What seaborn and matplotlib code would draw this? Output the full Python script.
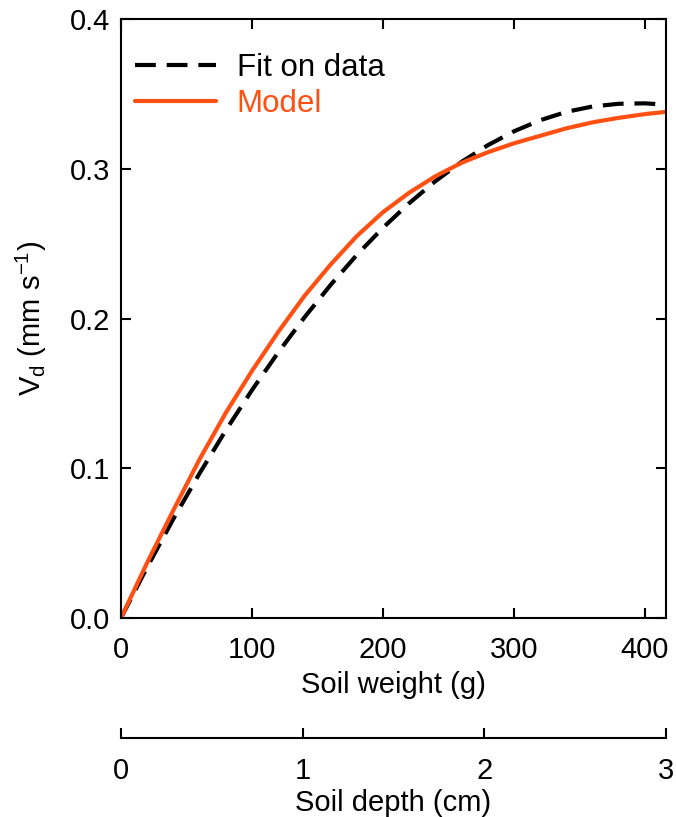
import matplotlib
matplotlib.use("Agg")
import matplotlib.pyplot as plt
import seaborn as sns

# values
soil_weight = [0, 20, 40, 60, 80, 100, 120, 140, 160, 180, 200, 220, 240,
               260, 280, 300, 320, 340, 360, 380, 400, 416]
fit_vd = [0.0, 0.0340, 0.0662, 0.0966, 0.1253, 0.1522, 0.1773, 0.2007,
          0.2224, 0.2424, 0.2606, 0.2770, 0.2917, 0.3046, 0.3157, 0.3250,
          0.3324, 0.3380, 0.3416, 0.3434, 0.3437, 0.3428]
model_vd = [0.0, 0.037, 0.072, 0.106, 0.137, 0.165, 0.191, 0.215, 0.236,
            0.255, 0.271, 0.284, 0.295, 0.304, 0.311, 0.317, 0.322, 0.327,
            0.331, 0.334, 0.3365, 0.338]
weight_ticks = [0, 100, 200, 300, 400]
vd_ticks = [0.0, 0.1, 0.2, 0.3, 0.4]
depth_ticks = [0, 1, 2, 3]
grams_per_cm = 416 / 3

orange = "#ff5014"

sns.set_theme(style="ticks")
plt.rcParams['font.family'] = ['Liberation Sans', 'DejaVu Sans']
plt.rcParams['mathtext.fontset'] = 'custom'
plt.rcParams['mathtext.rm'] = 'Liberation Sans'
plt.rcParams['mathtext.it'] = 'Liberation Sans'
plt.rcParams['text.color'] = 'black'
plt.rcParams['axes.labelcolor'] = 'black'

fig = plt.figure(figsize=(6.76, 8.17), dpi=100)
ax = fig.add_axes([0.179, 0.2436, 0.806, 0.7331])

sns.lineplot(x=soil_weight, y=fit_vd, ax=ax, color="black", linewidth=3,
             linestyle=(0, (5, 2.6)), label="Fit on data")
sns.lineplot(x=soil_weight, y=model_vd, ax=ax, color=orange, linewidth=3,
             label="Model")

ax.set_xlim(0, 416)
ax.set_ylim(0, 0.4)
ax.set_xticks(weight_ticks)
ax.set_yticks(vd_ticks)
ax.set_yticklabels([f"{v:.1f}" for v in vd_ticks])

for side in ["top", "right", "left", "bottom"]:
    ax.spines[side].set_visible(True)
    ax.spines[side].set_linewidth(1.5)
    ax.spines[side].set_color("black")

ax.tick_params(axis="both", direction="in", length=7, width=1.5,
               labelsize=21, top=True, right=True, colors="black")
ax.tick_params(axis="x", pad=13)
ax.tick_params(axis="y", pad=8)

ax.set_xlabel("Soil weight (g)", fontsize=21, labelpad=5)
ax.set_ylabel("V$_\\mathregular{d}$ (mm s$^\\mathregular{-1}$)", fontsize=21,
              labelpad=15)

leg = ax.legend(loc="upper left", bbox_to_anchor=(0.0, 0.967), frameon=False,
                fontsize=22.5, handlelength=2.6, handletextpad=0.65,
                labelspacing=0.2, borderaxespad=0.05)
leg.get_texts()[0].set_color("black")
leg.get_texts()[1].set_color(orange)

sec = ax.secondary_xaxis(-0.2, functions=(lambda g: g / grams_per_cm,
                                           lambda c: c * grams_per_cm))
sec.set_xticks(depth_ticks)
sec.spines["bottom"].set_linewidth(1.5)
sec.spines["bottom"].set_color("black")
sec.tick_params(direction="in", length=7, width=1.5, labelsize=21, pad=14,
                colors="black")
sec.set_xlabel("Soil depth (cm)", fontsize=21, labelpad=3)

fig.savefig("out.png", dpi=100)
